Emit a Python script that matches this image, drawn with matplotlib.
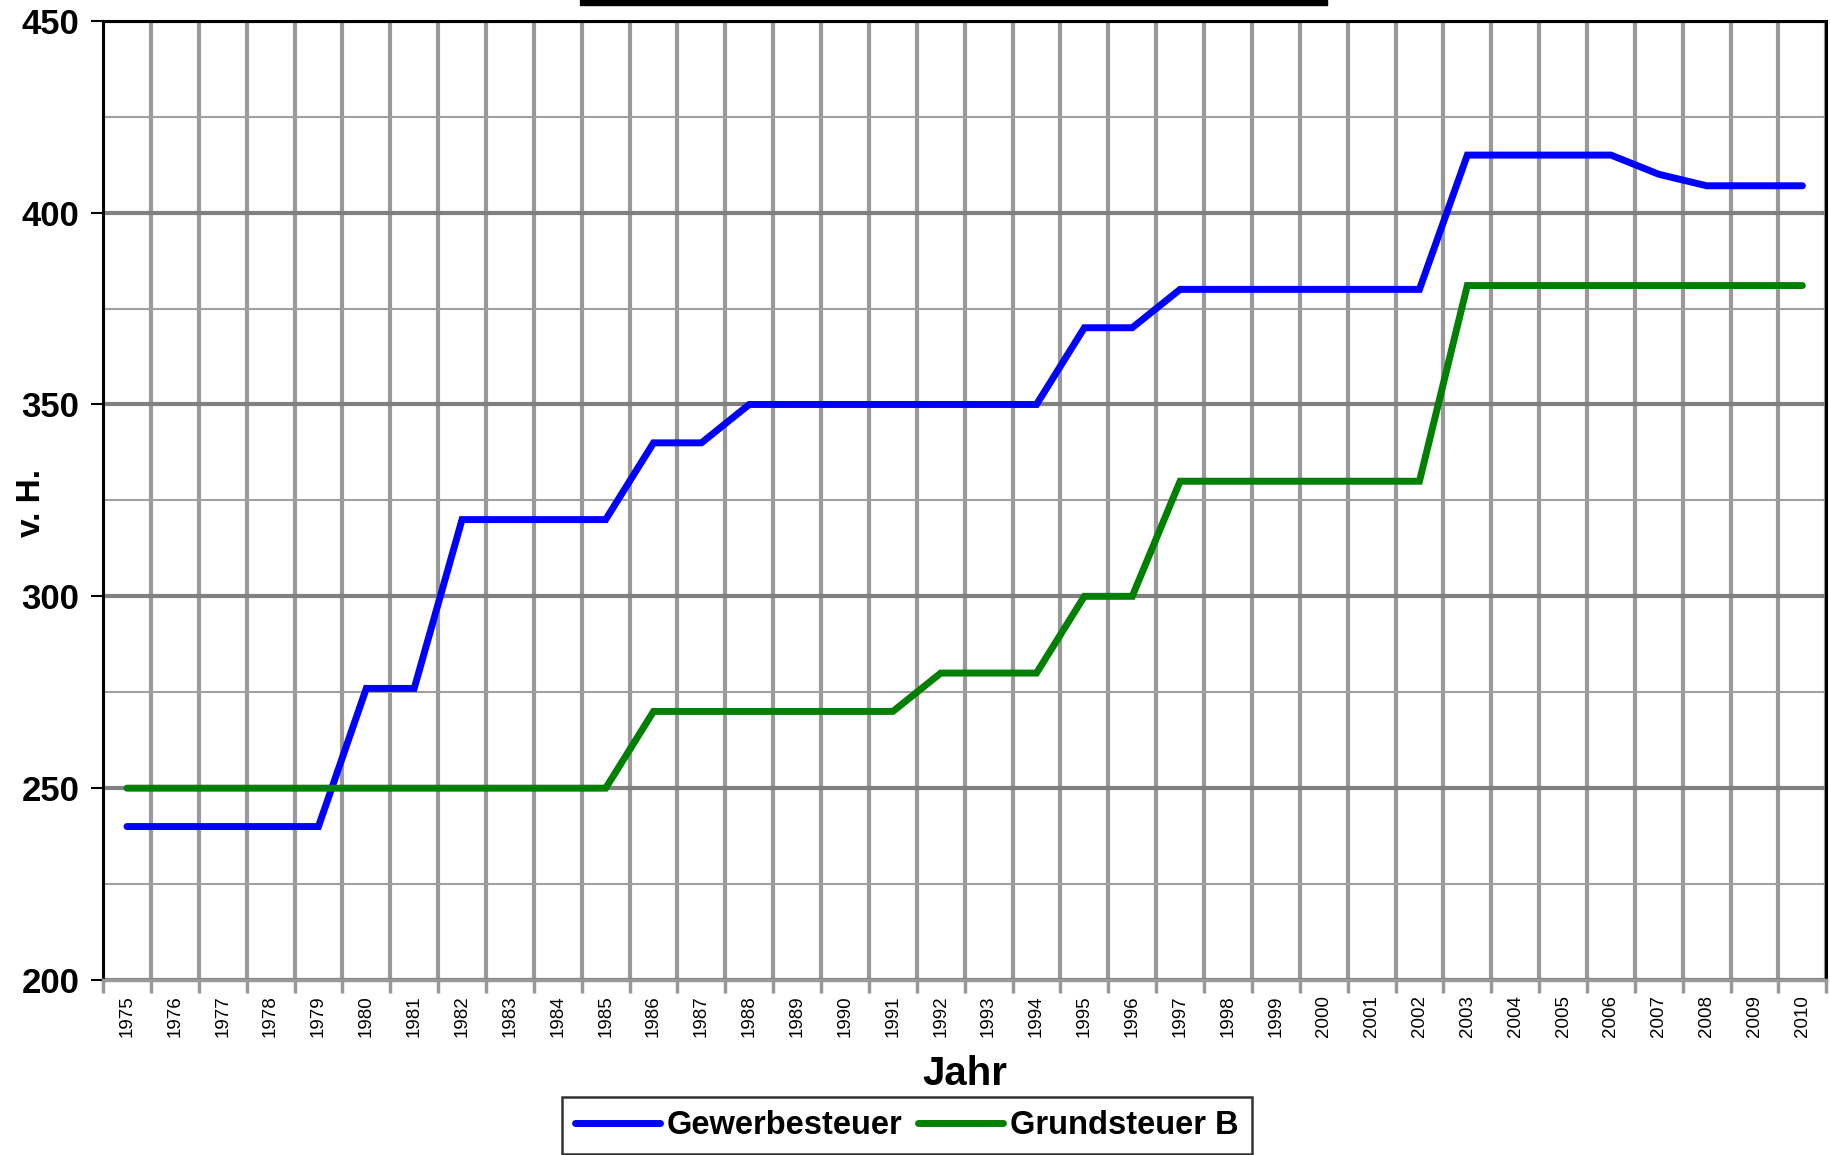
#Hebesätze Gewerbesteuer / Grundsteuer B
import matplotlib
matplotlib.use("Agg")
import matplotlib.pyplot as plt
from matplotlib.patches import Rectangle
from matplotlib.ticker import MultipleLocator
import numpy as np

#Daten
jahre = [str(j) for j in range(1975, 2011)]
gewerbesteuer = [240, 240, 240, 240, 240, 276, 276, 320, 320, 320, 320, 340, 340,
                 350, 350, 350, 350, 350, 350, 350, 370, 370, 380, 380, 380, 380,
                 380, 380, 415, 415, 415, 415, 410, 407, 407, 407]
grundsteuer_b = [250, 250, 250, 250, 250, 250, 250, 250, 250, 250, 250, 270, 270,
                 270, 270, 270, 270, 280, 280, 280, 300, 300, 330, 330, 330, 330,
                 330, 330, 381, 381, 381, 381, 381, 381, 381, 381]

plt.rcParams['font.family'] = ['Liberation Sans', 'DejaVu Sans']

fig = plt.figure(figsize=(18.3, 11.55), dpi=100)
ax = fig.add_axes([0.0563, 0.1515, 0.9417, 0.8305])

x = np.arange(len(jahre))
ax.plot(x, gewerbesteuer, color='#0000ff', lw=5, solid_capstyle='round',
        solid_joinstyle='miter', label='Gewerbesteuer', zorder=3)
ax.plot(x, grundsteuer_b, color='#008000', lw=5, solid_capstyle='round',
        solid_joinstyle='miter', label='Grundsteuer B', zorder=3)

#Achsen
ax.set_xlim(-0.5, len(jahre) - 0.5)
ax.set_ylim(200, 450)
ax.set_xticks(x)
ax.set_xticklabels(jahre, rotation=90, fontsize=13.5)
ax.set_xticks(np.arange(-0.5, len(jahre)), minor=True)
ax.tick_params(axis='x', which='major', length=0, pad=11)
ax.tick_params(axis='x', which='minor', length=9, width=2.5, color='#999999')
ax.yaxis.set_major_locator(MultipleLocator(50))
ax.yaxis.set_minor_locator(MultipleLocator(25))
ax.tick_params(axis='y', which='major', length=9, width=1.5, color='black', pad=8)
ax.tick_params(axis='y', which='minor', length=0)
for lab in ax.get_yticklabels():
    lab.set_fontsize(25)
    lab.set_fontweight('bold')

#Gitter
ax.grid(axis='x', which='minor', color='#999999', lw=3)
ax.grid(axis='y', which='major', color='#808080', lw=3)
ax.grid(axis='y', which='minor', color='#a0a0a0', lw=1.5)
ax.set_axisbelow(True)

for s in ['left', 'top', 'right']:
    ax.spines[s].set_color('black')
    ax.spines[s].set_linewidth(2.2)
ax.spines['bottom'].set_color('#999999')
ax.spines['bottom'].set_linewidth(2.5)

#Beschriftungen
fig.text(0.017, 0.5645, 'v. H.', rotation=90, fontsize=24, fontweight='bold',
         ha='center', va='center')
fig.text(0.527, 0.0697, 'Jahr', fontsize=29, fontweight='bold', ha='center', va='center')

fig.legend(loc='center', bbox_to_anchor=(0.4955, 0.0255), ncol=2,
           prop={'weight': 'bold', 'size': 23.5}, frameon=True, fancybox=False,
           edgecolor='black', handlelength=2.6, columnspacing=0.5, handletextpad=0.2,
           borderpad=0.4, borderaxespad=0)
fig.legends[0].get_frame().set_linewidth(1.8)

#Balken oben (abgeschnittener Titel)
fig.add_artist(Rectangle((580 / 1830, 1 - 5 / 1155), 747 / 1830, 5 / 1155,
                         transform=fig.transFigure, color='black'))

fig.savefig('out.png', dpi=100)
